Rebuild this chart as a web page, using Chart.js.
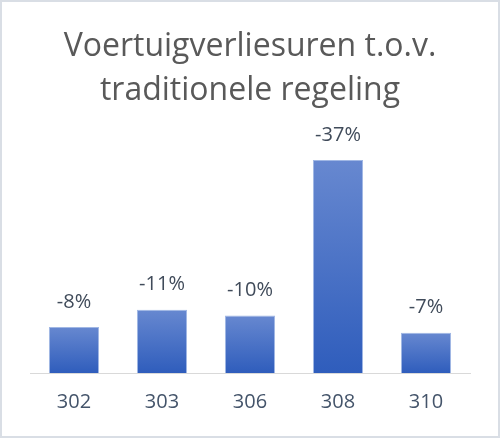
<!DOCTYPE html>
<html>
<head>
<meta charset="utf-8">
<script src="https://cdn.jsdelivr.net/npm/chart.js@4.4.0/dist/chart.umd.min.js"></script>
<style>
  html, body { margin: 0; padding: 0; background: #ffffff; }
  #wrap { width: 500px; height: 438px; position: relative; }
</style>
</head>
<body>
<div id="wrap"><canvas id="bar-chart" width="500" height="438"></canvas></div>
<script>
const categories = ['302', '303', '306', '308', '310'];
const changes = [-8, -11, -10, -37, -7];   // percent change, shown as labels
const titleLines = ['Voertuigverliesuren t.o.v.', 'traditionele regeling'];

// bar height = size of the reduction
const heights = changes.map(v => -v);

const ctx = document.getElementById('bar-chart').getContext('2d');

const barLabels = {
  id: 'barLabels',
  afterDatasetsDraw(chart) {
    const c = chart.ctx;
    const meta = chart.getDatasetMeta(0);
    c.save();
    c.font = '20px "Open Sans"';
    c.fillStyle = '#404b5a';
    c.textAlign = 'center';
    c.textBaseline = 'middle';
    meta.data.forEach((bar, i) => {
      c.fillText(changes[i] + '%', bar.x, bar.y - 25);
    });
    c.restore();
  }
};

const frame = {
  id: 'frame',
  afterDraw(chart) {
    const c = chart.ctx;
    c.save();
    c.strokeStyle = '#d9dee5';
    c.lineWidth = 2;
    c.strokeRect(1, 1, chart.width - 2, chart.height - 2);
    c.restore();
  }
};

function barGradient(context) {
  const chart = context.chart;
  const y = chart.scales.y;
  if (!chart.chartArea || !y) return '#4472c4';
  const top = y.getPixelForValue(heights[context.dataIndex]);
  const bottom = y.getPixelForValue(0);
  const g = chart.ctx.createLinearGradient(0, top, 0, bottom);
  g.addColorStop(0, '#6788d0');
  g.addColorStop(1, '#2f5dbc');
  return g;
}

new Chart(ctx, {
  type: 'bar',
  data: {
    labels: categories,
    datasets: [{
      data: heights,
      backgroundColor: barGradient,
      borderColor: 'rgba(150,175,225,0.9)',
      borderWidth: 1,
      barPercentage: 0.57,
      categoryPercentage: 1.0,
    }],
  },
  options: {
    responsive: false,
    animation: false,
    layout: { padding: { left: 30, right: 30, top: 0, bottom: 7 } },
    plugins: {
      legend: { display: false },
      tooltip: { enabled: false },
      title: {
        display: true,
        text: titleLines,
        color: '#595959',
        font: { family: '"Open Sans"', size: 32, weight: 'normal', lineHeight: 1.4 },
        padding: { top: 24, bottom: 29 },
      },
    },
    scales: {
      x: {
        grid: { display: false, drawTicks: false },
        border: { display: true, color: '#d9d9d9', width: 1 },
        ticks: { color: '#44546a', font: { family: '"Open Sans"', size: 20 }, padding: 17 },
      },
      y: {
        display: false,
        min: 0,
        max: 40,
      },
    },
  },
  plugins: [barLabels, frame],
});
</script>
</body>
</html>
